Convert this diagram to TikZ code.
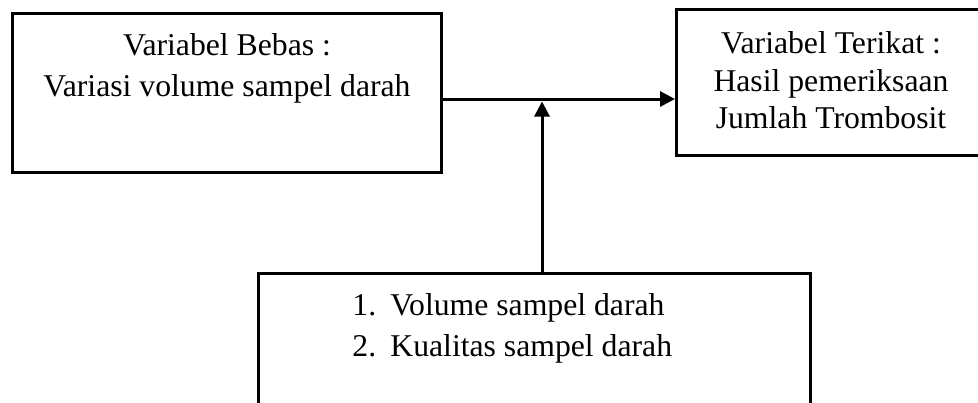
\documentclass[tikz,border=0pt]{standalone}
\usepackage{fontspec}
\setmainfont{Liberation Serif}
\usetikzlibrary{arrows.meta}
\begin{document}
\begin{tikzpicture}[x=0.5pt,y=-0.5pt,
  box/.style={draw, rectangle, line width=1.5pt, inner sep=0pt},
  lbl/.style={font=\fontsize{15.85pt}{19pt}\selectfont, inner sep=0pt, anchor=base},
  item/.style={lbl, anchor=base west},
  arr/.style={line width=1.5pt, -{Triangle[length=7.5pt,width=7.5pt]}}]
\useasboundingbox (0,0) rectangle (978,402);
\clip (0,0) rectangle (978,402);

% boxes
\node[box, minimum width=214.25pt, minimum height=79.25pt] (bebas) at (226.75,92.75) {};
\node[box, minimum width=154.75pt, minimum height=73pt] (terikat) at (831.25,82.5) {};
\node[box, minimum width=276pt, minimum height=80pt] (pengganggu) at (534,353) {};

% texts
\node[lbl] (bebas1) at (227,55.5) {Variabel Bebas :};
\node[lbl] (bebas2) at (227,96) {Variasi volume sampel darah};

\node[lbl] (terikat1) at (831,53.3) {Variabel Terikat :};
\node[lbl] (terikat2) at (831,91) {Hasil pemeriksaan};
\node[lbl] (terikat3) at (831,128.3) {Jumlah Trombosit};

\node[item] (item1) at (352,315) {\makebox[19pt][l]{1.}Volume sampel darah};
\node[item] (item2) at (352,356.7) {\makebox[19pt][l]{2.}Kualitas sampel darah};

% connectors
\coordinate (hline) at (542,99);
\coordinate (meet) at (542,101.5);
\draw[arr] (bebas.east |- hline) -- (terikat.west |- hline);
\draw[arr] (pengganggu.north -| meet) -- (meet);
\end{tikzpicture}
\end{document}
